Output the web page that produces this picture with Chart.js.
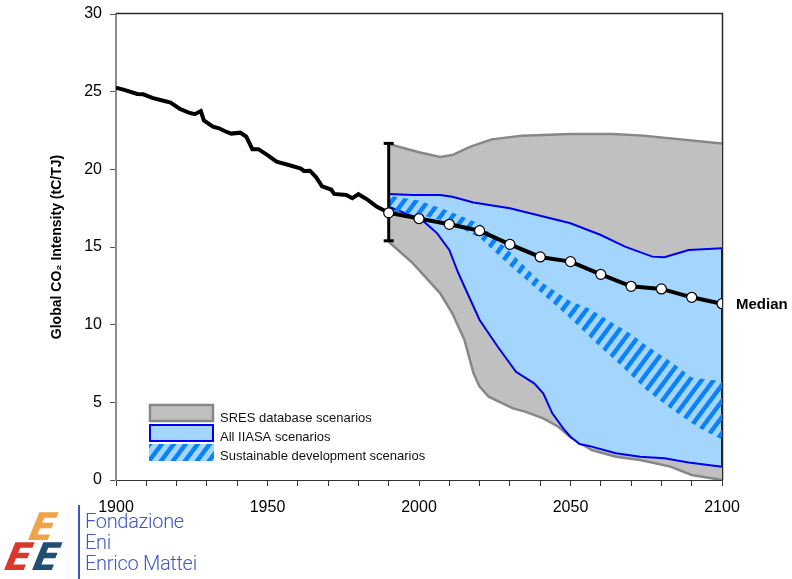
<!DOCTYPE html>
<html>
<head>
<meta charset="utf-8">
<script src="https://cdn.jsdelivr.net/npm/chart.js@4.4.1/dist/chart.umd.min.js"></script>
<style>
  html, body { margin: 0; padding: 0; background: #fff; }
  #wrap { position: relative; width: 792px; height: 579px; }
  #logo .bar { position: absolute; left: 78px; top: 505px; width: 2px; height: 74px; background: #3f57c6; }
  #logo .txt { position: absolute; left: 85px; top: 511px; font: 300 20px/21px Roboto, "Open Sans", sans-serif; color: #3f57c6; letter-spacing: -0.3px; }
  #logo .e { position: absolute; font: italic 900 38px/38px "DejaVu Sans", sans-serif; transform: skewX(-12deg); }
  #logo .e1 { left: 30px; top: 508px; color: #f0a348; }
  #logo .e2 { left: 6px; top: 538px; color: #d9382c; }
  #logo .e3 { left: 34px; top: 538px; color: #214e73; }
</style>
</head>
<body>
<div id="wrap">
  <canvas id="chart" width="792" height="579"></canvas>
  <div id="logo">
    <span class="e e1">E</span><span class="e e2">E</span><span class="e e3">E</span>
    <div class="bar"></div>
    <div class="txt">Fondazione<br>Eni<br>Enrico Mattei</div>
  </div>
</div>
<script>
// historical global CO2 intensity
const histYears = [1900, 1903, 1907, 1909, 1912, 1915, 1918, 1921, 1924, 1926, 1928, 1929, 1932, 1934, 1936, 1938, 1941, 1943, 1945, 1947, 1950, 1953, 1957, 1961, 1962, 1964, 1966, 1968, 1971, 1972, 1976, 1978, 1980, 1983, 1986, 1990];
const histValues = [25.25, 25.1, 24.85, 24.83, 24.6, 24.45, 24.3, 23.9, 23.65, 23.55, 23.75, 23.15, 22.75, 22.64, 22.45, 22.3, 22.36, 22.1, 21.3, 21.3, 20.92, 20.5, 20.28, 20.05, 19.9, 19.91, 19.5, 18.9, 18.7, 18.42, 18.35, 18.14, 18.4, 18.05, 17.6, 17.2];

// median of scenarios
const medianYears = [1990, 2000, 2010, 2020, 2030, 2040, 2050, 2060, 2070, 2080, 2090, 2100];
const medianValues = [17.2, 16.83, 16.46, 16.05, 15.17, 14.36, 14.06, 13.24, 12.47, 12.3, 11.76, 11.35];

// 1990 uncertainty bar
const errYear = 1990;
const errLow = 15.4;
const errHigh = 21.67;

// SRES database range
const sresUpperYears = [1990, 2000, 2007, 2011, 2017, 2024, 2034, 2050, 2064, 2074, 2100];
const sresUpperValues = [21.63, 21.1, 20.8, 20.92, 21.46, 21.93, 22.17, 22.28, 22.28, 22.17, 21.67];
const sresLowerYears = [1990, 1998, 2007, 2011, 2015, 2018, 2020, 2023, 2031, 2035, 2041, 2046, 2050, 2057, 2065, 2073, 2083, 2090, 2100];
const sresLowerValues = [15.34, 13.95, 12.02, 10.73, 9.01, 6.87, 6.01, 5.36, 4.61, 4.4, 3.97, 3.43, 2.75, 1.93, 1.5, 1.29, 0.86, 0.32, 0.0];

// all IIASA scenarios range
const iiasaUpperYears = [1990, 1998, 2007, 2011, 2018, 2030, 2039, 2050, 2060, 2068, 2077, 2081, 2089, 2100];
const iiasaUpperValues = [18.41, 18.35, 18.35, 18.24, 17.86, 17.49, 17.06, 16.53, 15.77, 15.02, 14.38, 14.34, 14.81, 14.92];
const iiasaLowerYears = [1990, 2001, 2006, 2010, 2013, 2017, 2020, 2026, 2032, 2038, 2041, 2044, 2048, 2050, 2053, 2057, 2065, 2073, 2081, 2089, 2100];
const iiasaLowerValues = [17.6, 16.74, 15.88, 14.81, 13.31, 11.59, 10.3, 8.58, 6.97, 6.22, 5.58, 4.29, 3.22, 2.79, 2.32, 2.15, 1.72, 1.5, 1.4, 1.12, 0.86];

// sustainable development scenarios range
const sdUpperYears = [1990, 2000, 2010, 2020, 2030, 2040, 2050, 2056, 2064, 2070, 2074, 2084, 2090, 2100];
const sdUpperValues = [18.3, 18.0, 17.3, 16.5, 14.7, 12.8, 11.5, 11.05, 10.1, 9.4, 8.8, 7.5, 6.6, 6.35];
const sdLowerYears = [1990, 2000, 2010, 2020, 2030, 2040, 2050, 2059, 2067, 2075, 2083, 2092, 2100];
const sdLowerValues = [17.3, 17.1, 16.6, 15.6, 13.8, 12.1, 10.4, 8.7, 7.3, 5.8, 4.6, 3.4, 2.6];

const legendLabels = ['SRES database scenarios', 'All IIASA scenarios', 'Sustainable development scenarios'];

const GRAY = '#c0c0c0', GRAY_LINE = '#878787';
const LIGHT_BLUE = '#a4d6fd', BLUE_LINE = '#0000f0', STRIPE = '#0a82fa';
const FONT = "'Liberation Sans', Arial, sans-serif";

const pts = (xs, ys) => xs.map((x, i) => ({ x: x, y: ys[i] }));

// steep diagonal stripe pattern
function makeHatch() {
    const w = 12, h = 16;
    const c = document.createElement('canvas');
    c.width = w; c.height = h;
    const g = c.getContext('2d');
    g.fillStyle = STRIPE;
    const t = 5.5; // horizontal stripe width
    const band = (dx) => {
        g.beginPath();
        g.moveTo(dx, h); g.lineTo(dx + w, 0); g.lineTo(dx + w + t, 0); g.lineTo(dx + t, h);
        g.closePath();
        g.fill();
    };
    band(-w); band(0);
    return g.createPattern(c, 'repeat');
}
const hatch = makeHatch();

const framePlugin = {
    id: 'frame',
    beforeDatasetsDraw(chart) {
        const { ctx, chartArea: a } = chart;
        ctx.save();
        ctx.strokeStyle = '#2a2a2a';
        ctx.lineWidth = 1.5;
        ctx.beginPath();
        ctx.moveTo(a.left, a.top - 0.5);
        ctx.lineTo(a.right + 0.5, a.top - 0.5);
        ctx.lineTo(a.right + 0.5, a.bottom);
        ctx.stroke();
        ctx.restore();
    }
};

const labelsPlugin = {
    id: 'labels',
    afterDraw(chart) {
        const { ctx } = chart;
        const xs = chart.scales.x, ys = chart.scales.y;
        ctx.save();
        // median label
        const n = medianYears.length - 1;
        ctx.fillStyle = '#000';
        ctx.font = 'bold 15px ' + FONT;
        ctx.textBaseline = 'middle';
        ctx.fillText('Median', xs.getPixelForValue(medianYears[n]) + 14, ys.getPixelForValue(medianValues[n]) + 1);

        // legend
        const bx = 150, bw = 63;
        const rows = [405, 425, 444];
        ctx.fillStyle = GRAY;
        ctx.fillRect(bx, rows[0], bw, 16);
        ctx.strokeStyle = GRAY_LINE; ctx.lineWidth = 2.5;
        ctx.strokeRect(bx, rows[0], bw, 16);
        ctx.fillStyle = LIGHT_BLUE;
        ctx.fillRect(bx, rows[1], bw, 16);
        ctx.strokeStyle = BLUE_LINE; ctx.lineWidth = 2;
        ctx.strokeRect(bx, rows[1], bw, 16);
        ctx.fillStyle = LIGHT_BLUE;
        ctx.fillRect(bx - 1, rows[2], bw + 2, 17);
        ctx.fillStyle = hatch;
        ctx.fillRect(bx - 1, rows[2], bw + 2, 17);

        ctx.fillStyle = '#111';
        ctx.font = '13px ' + FONT;
        ctx.fillText(legendLabels[0], 220, 418);
        ctx.fillText(legendLabels[1], 220, 437.5);
        ctx.fillText(legendLabels[2], 220, 456.5);
        ctx.restore();
    }
};

const ctx = document.getElementById('chart').getContext('2d');
new Chart(ctx, {
    type: 'line',
    data: {
        datasets: [
            { // SRES upper, filled to lower
                data: pts(sresUpperYears, sresUpperValues),
                borderColor: GRAY_LINE, borderWidth: 2.5, backgroundColor: GRAY,
                fill: '+1', pointRadius: 0, order: 10
            },
            { // SRES lower
                data: pts(sresLowerYears, sresLowerValues),
                borderColor: GRAY_LINE, borderWidth: 2.5, fill: false, pointRadius: 0, order: 9
            },
            { // IIASA upper
                data: pts(iiasaUpperYears, iiasaUpperValues),
                borderColor: BLUE_LINE, borderWidth: 2, backgroundColor: LIGHT_BLUE,
                fill: '+1', pointRadius: 0, order: 8
            },
            { // IIASA lower
                data: pts(iiasaLowerYears, iiasaLowerValues),
                borderColor: BLUE_LINE, borderWidth: 2, fill: false, pointRadius: 0, order: 7
            },
            { // IIASA right edge
                data: [
                    { x: iiasaLowerYears[iiasaLowerYears.length - 1], y: iiasaLowerValues[iiasaLowerValues.length - 1] },
                    { x: iiasaUpperYears[iiasaUpperYears.length - 1], y: iiasaUpperValues[iiasaUpperValues.length - 1] }
                ],
                borderColor: BLUE_LINE, borderWidth: 2, fill: false, pointRadius: 0, order: 7
            },
            { // sustainable upper
                data: pts(sdUpperYears, sdUpperValues),
                borderWidth: 0, borderColor: 'rgba(0,0,0,0)', backgroundColor: hatch,
                fill: '+1', pointRadius: 0, order: 6
            },
            { // sustainable lower
                data: pts(sdLowerYears, sdLowerValues),
                borderWidth: 0, borderColor: 'rgba(0,0,0,0)', fill: false, pointRadius: 0, order: 5
            },
            { // history
                data: pts(histYears, histValues),
                borderColor: '#000', borderWidth: 4, fill: false, pointRadius: 0, order: 4
            },
            { // error bar
                data: [{ x: errYear, y: errLow }, { x: errYear, y: errHigh }],
                borderColor: '#000', borderWidth: 3, fill: false,
                pointStyle: 'line', pointRadius: 5, pointBorderWidth: 3, pointBorderColor: '#000', order: 3
            },
            { // median
                data: pts(medianYears, medianValues),
                borderColor: '#000', borderWidth: 4, fill: false,
                pointRadius: 5, pointBackgroundColor: '#fff', pointBorderColor: '#000', pointBorderWidth: 1.2,
                order: 1
            }
        ]
    },
    options: {
        responsive: false,
        animation: false,
        devicePixelRatio: 1,
        layout: { padding: { top: 14, right: 70, left: 0, bottom: 0 } },
        elements: { line: { tension: 0 } },
        plugins: {
            legend: { display: false },
            tooltip: { enabled: false }
        },
        scales: {
            x: {
                type: 'linear', min: 1900, max: 2100,
                afterFit(s) { s.height = 99; },
                ticks: {
                    stepSize: 10, autoSkip: false, maxRotation: 0, padding: 12,
                    color: '#000', font: { family: FONT, size: 16 },
                    callback: v => (v % 50 === 0 ? String(v) : '')
                },
                grid: { drawOnChartArea: false, drawTicks: true, tickLength: 6, color: '#333' },
                border: { color: '#333', width: 1 }
            },
            y: {
                type: 'linear', min: 0, max: 30,
                afterFit(s) { s.width = 116; s.paddingTop = 0; s.paddingBottom = 0; },
                ticks: {
                    stepSize: 5, padding: 8,
                    color: '#000', font: { family: FONT, size: 16 }
                },
                grid: { drawOnChartArea: false, drawTicks: true, tickLength: 6, color: '#555' },
                border: { color: '#8a8a8a', width: 2 },
                title: {
                    display: true, text: 'Global CO\u2082 Intensity (tC/TJ)', color: '#000',
                    font: { family: FONT, size: 14, weight: 'bold' },
                    padding: { top: 49, bottom: 0 }
                }
            }
        }
    },
    plugins: [framePlugin, labelsPlugin]
});
</script>
</body>
</html>
